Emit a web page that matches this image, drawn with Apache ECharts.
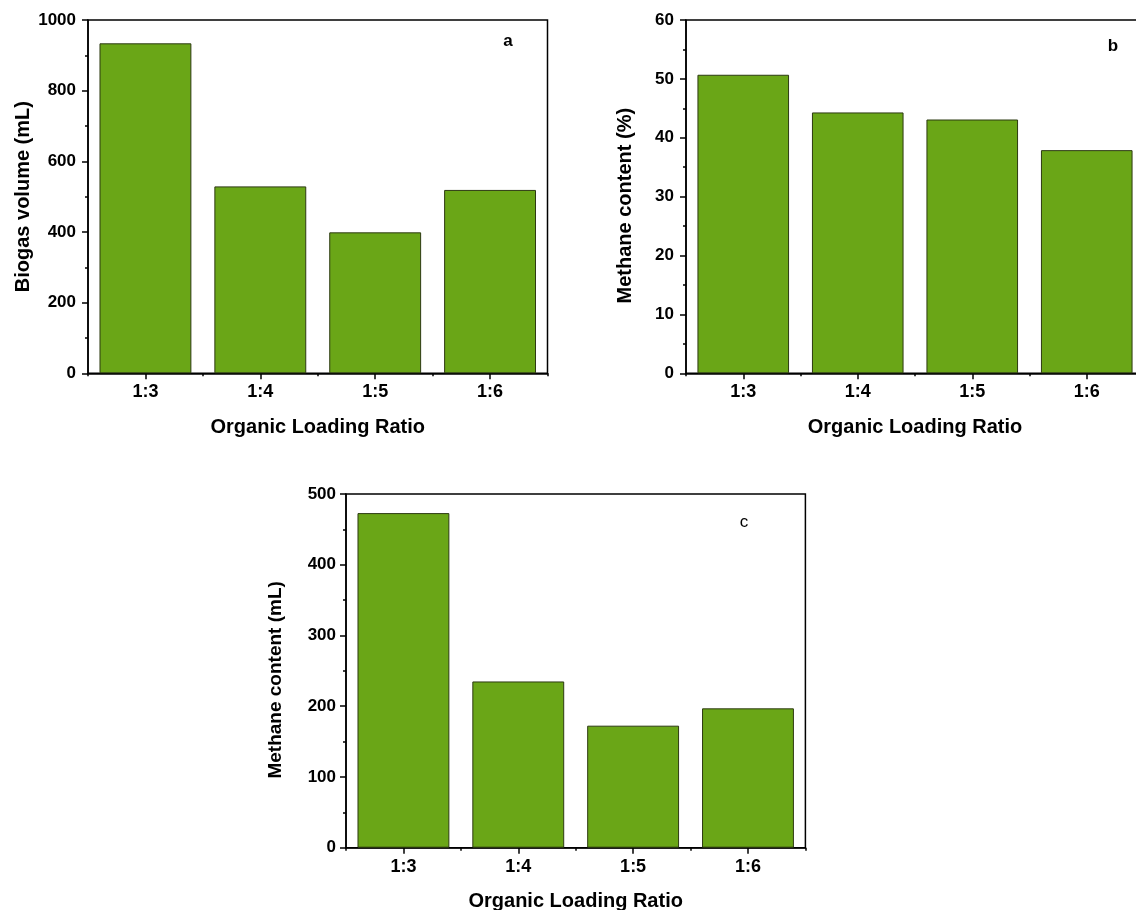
<!DOCTYPE html>
<html>
<head>
<meta charset="utf-8">
<script src="https://cdn.jsdelivr.net/npm/echarts@6/dist/echarts.min.js"></script>
<style>
  html, body { margin: 0; padding: 0; background: #fff; }
  #chart { width: 1136px; height: 910px; }
</style>
</head>
<body>
<div id="chart"></div>
<script>
const categories = ['1:3', '1:4', '1:5', '1:6'];
const biogasVolume = [934, 529, 399, 519];
const methanePercent = [50.7, 44.3, 43.1, 37.9];
const methaneVolume = [473, 235, 172.5, 197];
const panelLabels = ['a', 'b', 'c'];
const xAxisTitle = 'Organic Loading Ratio';
const yAxisTitles = ['Biogas volume (mL)', 'Methane content (%)', 'Methane content (mL)'];

const FONT = 'Arial, "Liberation Sans", sans-serif';
const BAR_COLOR = '#6aa617';
const BAR_BORDER = '#2d3a12';

const gridBase = { show: true, borderColor: '#000', borderWidth: 1.5, outerBoundsMode: 'none', containLabel: false };
const grids = [
  Object.assign({ left: 88, top: 20, width: 459.5, height: 353.3 }, gridBase),
  Object.assign({ left: 686, top: 20, width: 458, height: 353.3 }, gridBase),
  Object.assign({ left: 346, top: 494, width: 459.4, height: 353.7 }, gridBase)
];

const yCfg = [
  { max: 1000, interval: 200, gap: 55, margin: 12, nameSize: 20, shift: 0 },
  { max: 60, interval: 10, gap: 51, margin: 12, nameSize: 20, shift: 9 },
  { max: 500, interval: 100, gap: 61, margin: 10, nameSize: 19, shift: 9 }
];
const xNameGap = [44, 44, 44];

const xAxes = [];
const yAxes = [];
for (let i = 0; i < 3; i++) {
  xAxes.push({
    type: 'category', gridIndex: i, position: 'bottom', data: categories,
    name: xAxisTitle, nameLocation: 'middle', nameGap: xNameGap[i],
    nameTextStyle: { fontFamily: FONT, fontWeight: 'bold', fontSize: 20, color: '#000' },
    axisLine: { show: true, lineStyle: { color: '#000', width: 1.5 } },
    axisTick: { show: true, alignWithLabel: true, length: 6, lineStyle: { color: '#000', width: 1.5 } },
    axisLabel: { fontFamily: FONT, fontWeight: 'bold', fontSize: 18, color: '#000', margin: 10 },
    splitLine: { show: false }
  });
  xAxes.push({
    type: 'category', gridIndex: i, position: 'bottom', data: categories,
    axisLine: { show: false },
    axisTick: { show: true, length: 3, lineStyle: { color: '#000', width: 1.5 } },
    axisLabel: { show: false },
    splitLine: { show: false }
  });
  const s = yCfg[i].shift;
  yAxes.push({
    type: 'value', gridIndex: i, min: 0, max: yCfg[i].max, interval: yCfg[i].interval,
    name: yAxisTitles[i], nameLocation: 'middle', nameGap: yCfg[i].gap, nameRotate: 90,
    nameTextStyle: { fontFamily: FONT, fontWeight: 'bold', fontSize: yCfg[i].nameSize, color: '#000',
      padding: [0, 2 * s, 0, 0] },
    axisLine: { show: true, lineStyle: { color: '#000', width: 1.5 } },
    axisTick: { show: true, length: 6, lineStyle: { color: '#000', width: 1.5 } },
    minorTick: { show: true, splitNumber: 2, length: 3, lineStyle: { color: '#000', width: 1.5 } },
    axisLabel: { fontFamily: FONT, fontWeight: 'bold', fontSize: 17, color: '#000', margin: yCfg[i].margin,
      formatter: v => String(v) },
    splitLine: { show: false }
  });
}

const seriesData = [biogasVolume, methanePercent, methaneVolume];
const series = seriesData.map((d, i) => ({
  type: 'bar', xAxisIndex: i * 2, yAxisIndex: i, data: d,
  barCategoryGap: '20%',
  itemStyle: { color: BAR_COLOR, borderColor: BAR_BORDER, borderWidth: 1 },
  emphasis: { disabled: true },
  silent: true
}));

const labelPos = [
  { x: 508, y: 41, bold: true, size: 17 },
  { x: 1113, y: 46, bold: true, size: 17 },
  { x: 744, y: 522, bold: false, size: 17 }
];

const chart = echarts.init(document.getElementById('chart'), null, { renderer: 'canvas' });
chart.setOption({
  animation: false,
  backgroundColor: '#fff',
  grid: grids,
  xAxis: xAxes,
  yAxis: yAxes,
  series: series,
  graphic: labelPos.map((p, i) => ({
    type: 'text', x: p.x, y: p.y,
    style: {
      text: panelLabels[i], align: 'center', verticalAlign: 'middle',
      fontFamily: FONT, fontWeight: p.bold ? 'bold' : 'normal', fontSize: p.size, fill: '#000'
    }
  }))
});
</script>
</body>
</html>
